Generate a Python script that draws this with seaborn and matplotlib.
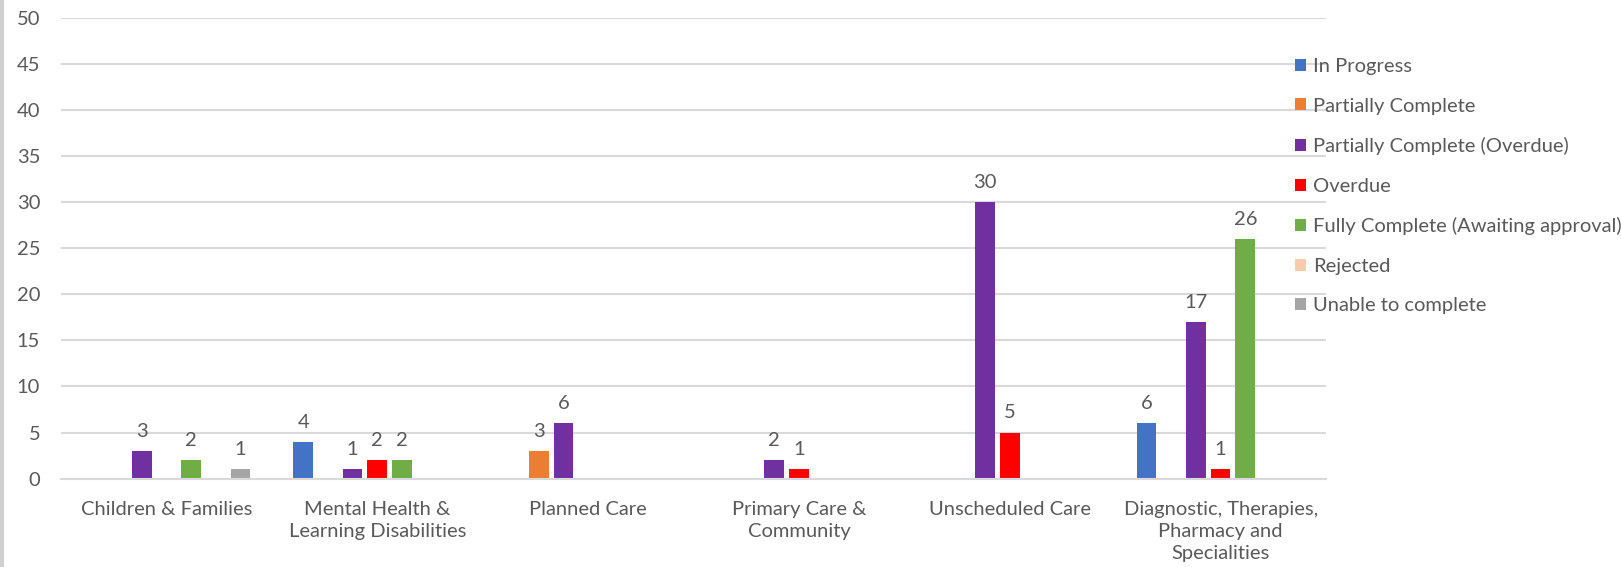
import matplotlib
matplotlib.use("Agg")
import matplotlib.pyplot as plt
from matplotlib.patches import Patch
from matplotlib.lines import Line2D
import seaborn as sns
import pandas as pd

categories = ["Children & Families", "Mental Health &\nLearning Disabilities", "Planned Care",
              "Primary Care &\nCommunity", "Unscheduled Care",
              "Diagnostic, Therapies,\nPharmacy and\nSpecialities"]
statuses = ["In Progress", "Partially Complete", "Partially Complete (Overdue)", "Overdue",
            "Fully Complete (Awaiting approval)", "Rejected", "Unable to complete"]
in_progress = [0, 4, 0, 0, 0, 6]
partially_complete = [0, 0, 3, 0, 0, 0]
partially_overdue = [3, 1, 6, 2, 30, 17]
overdue = [0, 2, 0, 1, 5, 1]
fully_complete = [2, 2, 0, 0, 0, 26]
rejected = [0, 0, 0, 0, 0, 0]
unable = [1, 0, 0, 0, 0, 0]
colors = ["#4472C4", "#ED7D31", "#7030A0", "#FF0000", "#70AD47", "#F8CBAD", "#A5A5A5"]
yticks = list(range(0, 51, 5))

series = [in_progress, partially_complete, partially_overdue, overdue, fully_complete, rejected, unable]
rows = []
for s, vals in zip(statuses, series):
    for c, v in zip(categories, vals):
        rows.append({"category": c, "status": s, "value": v})
df = pd.DataFrame(rows)

sns.set_theme(style="white")
plt.rcParams['font.family'] = ['Lato', 'DejaVu Sans']
txt = "#595959"
fs = 14.5

W, H = 1621, 567
fig = plt.figure(figsize=(W / 100, H / 100), dpi=100)
ax = fig.add_axes([61 / W, (H - 478.6) / H, (1326 - 61) / W, (478.6 - 17.6) / H])

sns.barplot(data=df, x="category", y="value", hue="status", order=categories,
            hue_order=statuses, palette=colors, width=0.82, gap=0.2, dodge=True,
            linewidth=0, saturation=1, ax=ax, legend=False)

for cont, vals in zip(ax.containers, series):
    labels = [str(v) if v > 0 else "" for v in vals]
    ax.bar_label(cont, labels=labels, padding=8, fontsize=fs, color=txt)

ax.set_ylim(0, 50)
ax.set_yticks(yticks)
ax.set_xlim(-0.5, 5.5)
ax.yaxis.grid(True, color="#d9d9d9", linewidth=1.5)
ax.set_axisbelow(True)
for sp in ["top", "right", "left"]:
    ax.spines[sp].set_visible(False)
ax.spines["bottom"].set_color("#d9d9d9")
ax.spines["bottom"].set_linewidth(1.5)
ax.tick_params(axis="y", length=0, pad=15, labelsize=fs, labelcolor=txt)
ax.tick_params(axis="x", length=0, pad=16, labelsize=fs, labelcolor=txt)
for lab in ax.get_xticklabels():
    lab.set_linespacing(1.38)
    lab.set_verticalalignment("top")
ax.set_xlabel("")
ax.set_ylabel("")

handles = [Patch(facecolor=c, edgecolor="none") for c in colors]
leg = fig.legend(handles, statuses, loc="upper left",
                 bbox_to_anchor=(1295 / W, (H - 58) / H), frameon=False,
                 handlelength=0.55, handleheight=0.55, handletextpad=0.35,
                 labelspacing=1.12, fontsize=fs, borderaxespad=0, borderpad=0)
for t in leg.get_texts():
    t.set_color(txt)

fig.add_artist(Line2D([1.5 / W, 1.5 / W], [0, 1], transform=fig.transFigure,
                      color="#d0d0d0", linewidth=3))

fig.savefig("out.png", dpi=100)
